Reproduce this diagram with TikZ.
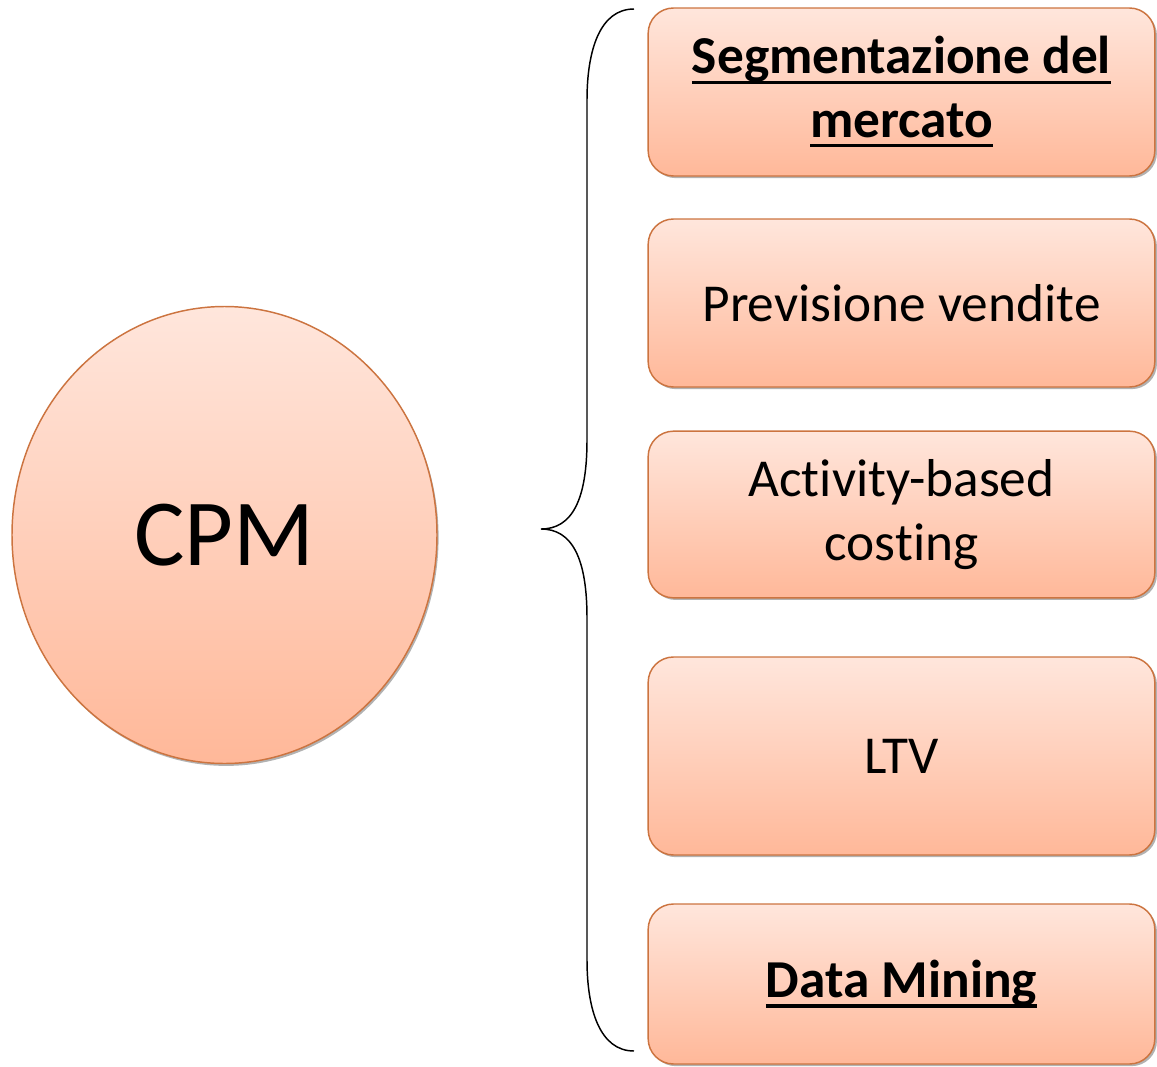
\documentclass[tikz,border=0pt]{standalone}
\usepackage{fontspec}
\setmainfont{Carlito}[RawFeature={-liga;-dlig}]
\usetikzlibrary{shadows,shapes.geometric}
\definecolor{boxtop}{HTML}{FFE6DC}
\definecolor{boxbot}{HTML}{FFB899}
\definecolor{boxline}{HTML}{CC7440}
% thick underline placed just below the baseline
\newcommand\thickul[1]{\setbox0\hbox{#1}\leavevmode\rlap{\raisebox{-0.19em}{\rule{\wd0}{0.065em}}}\box0}
\tikzset{
  card/.style={draw=boxline, line width=1.1pt, top color=boxtop, bottom color=boxbot,
    rounded corners=19pt, minimum width=380pt, align=center,
    font=\fontsize{40}{47.5}\selectfont,
    drop shadow={shadow xshift=1.6pt, shadow yshift=-1.6pt, opacity=0.55, fill=black!55}},
  hub/.style={ellipse, draw=boxline, line width=1.1pt, top color=boxtop, bottom color=boxbot,
    minimum width=318.75pt, minimum height=342.75pt, inner sep=0pt,
    font=\fontsize{71}{80}\selectfont,
    drop shadow={shadow xshift=1.2pt, shadow yshift=-1.8pt, opacity=0.55, fill=black!55}},
  bracket/.style={draw=black, line width=1.1pt}
}
\begin{document}
\begin{tikzpicture}[x=0.75pt, y=-0.75pt]
  \useasboundingbox (0,0) rectangle (1157,1067);
  % central ellipse
  \node[hub] (cpm) at (224.5,535) {CPM};
  % topic boxes
  \node[card, minimum height=126pt] (seg) at (901.5,92) {\textbf{\thickul{Segmentazione del}}\\\textbf{\thickul{mercato}}};
  \node[card, minimum height=126pt] (prev) at (901.5,303) {Previsione vendite};
  \node[card, minimum height=125pt] (abc) at (901.5,514.5) {Activity-based\\costing};
  \node[card, minimum height=148.5pt] (ltv) at (901.5,756) {LTV};
  \node[card, minimum height=120pt] (dm) at (901.5,984) {\textbf{\thickul{Data Mining}}};
  % curly brace grouping the boxes
  \coordinate (btop) at (634,9);
  \coordinate (btip) at (541,529);
  \coordinate (bbot) at (634,1051);
  \draw[bracket] (btop) .. controls (600,9) and (587,50) .. (587,100)
    -- (587,440) .. controls (587,500) and (572,529) .. (btip)
    .. controls (572,529) and (587,558) .. (587,618)
    -- (587,960) .. controls (587,1010) and (600,1051) .. (bbot);
\end{tikzpicture}
\end{document}
